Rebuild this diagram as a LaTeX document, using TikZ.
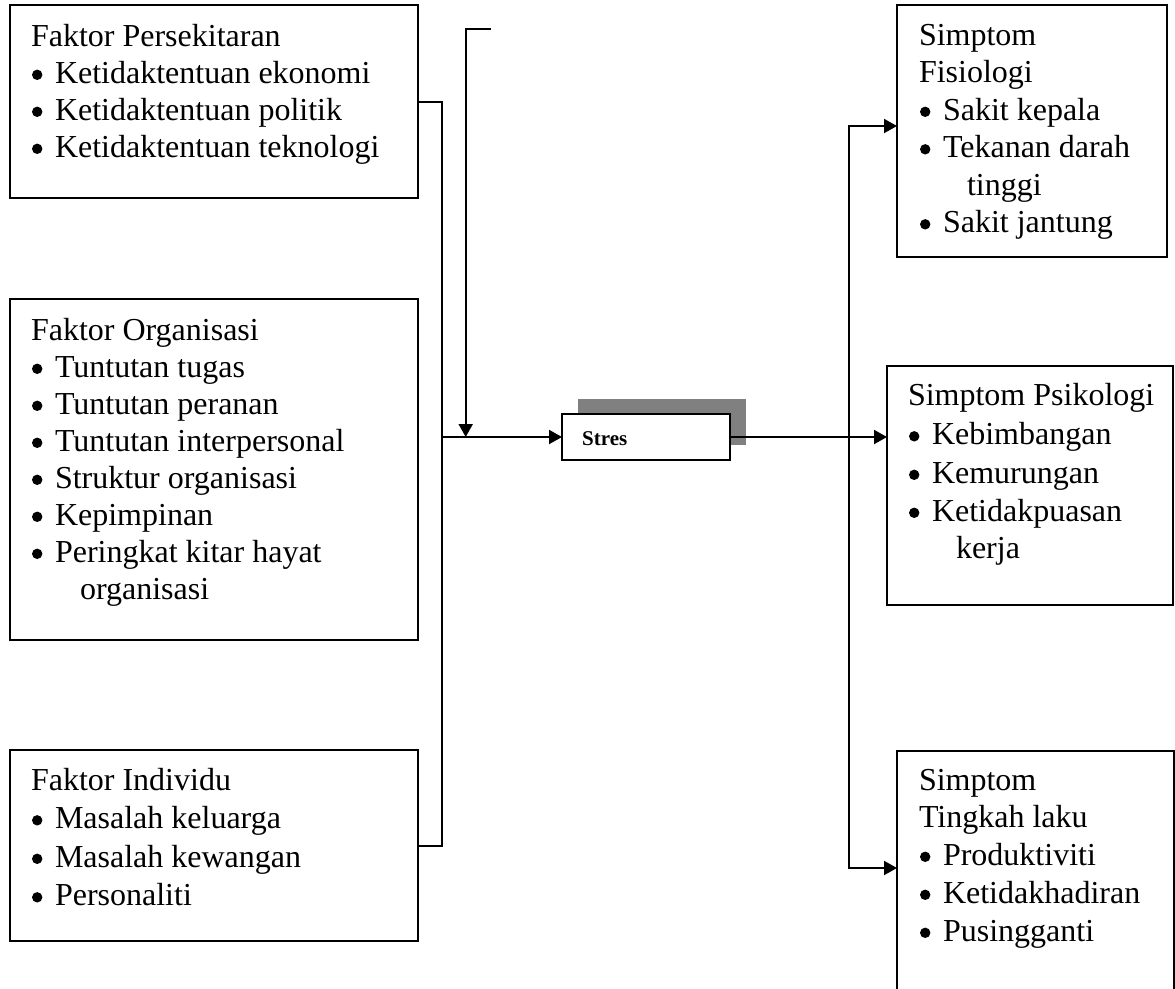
\documentclass[tikz,border=0pt]{standalone}
\usepackage{fontspec}
\setmainfont{Liberation Serif}
\usetikzlibrary{arrows.meta}
\definecolor{shadowgray}{HTML}{808080}
\tikzset{
  box/.style={draw=black, line width=2pt, inner sep=0pt, outer sep=0pt, anchor=north west, fill=white},
  txt/.style={anchor=base west, inner sep=0pt, outer sep=0pt, font=\fontsize{32}{37}\selectfont},
  conn/.style={draw=black, line width=2pt},
  arr/.style={conn, -{Triangle[length=13pt,width=14pt]}},
  arr2/.style={conn, {Triangle[length=13pt,width=14pt]}-{Triangle[length=13pt,width=14pt]}}
}
\newcommand{\bl}{\makebox[23pt][l]{\tikz[x=1pt,y=1pt,baseline=0pt]\fill[black] (5.3,8.2) circle (5.2);}}
\begin{document}
\begin{tikzpicture}[x=1pt,y=-1pt]
\clip (0,0) rectangle (1175,988);
\useasboundingbox (0,0) rectangle (1175,988);

% left boxes
\node[box, minimum width=408pt, minimum height=193pt] (b1) at (10,5) {};
\node[box, minimum width=408pt, minimum height=341pt] (b2) at (10,299) {};
\node[box, minimum width=408pt, minimum height=191pt] (b3) at (10,750) {};

\node[txt] (b1h) at (31,46) {Faktor Persekitaran};
\node[txt] (b1a) at (32,83) {\bl Ketidaktentuan ekonomi};
\node[txt] (b1b) at (32,120) {\bl Ketidaktentuan politik};
\node[txt] (b1c) at (32,157) {\bl Ketidaktentuan teknologi};

\node[txt] (b2h) at (31,340) {Faktor Organisasi};
\node[txt] (b2a) at (32,377) {\bl Tuntutan tugas};
\node[txt] (b2b) at (32,414) {\bl Tuntutan peranan};
\node[txt] (b2c) at (32,451) {\bl Tuntutan interpersonal};
\node[txt] (b2d) at (32,488) {\bl Struktur organisasi};
\node[txt] (b2e) at (32,525) {\bl Kepimpinan};
\node[txt] (b2f) at (32,562) {\bl Peringkat kitar hayat};
\node[txt] (b2g) at (80,599) {organisasi};

\node[txt] (b3h) at (31,790) {Faktor Individu};
\node[txt] (b3a) at (32,828.5) {\bl Masalah keluarga};
\node[txt] (b3b) at (32,867) {\bl Masalah kewangan};
\node[txt] (b3c) at (32,905.5) {\bl Personaliti};

% right boxes
\node[box, minimum width=270pt, minimum height=252pt] (fis) at (897,5) {};
\node[box, minimum width=286pt, minimum height=239pt] (psi) at (887,366) {};
\node[box, minimum width=277pt, minimum height=280pt] (tl) at (897,751) {};

\node[txt] (fish1) at (919,45) {Simptom};
\node[txt] (fish2) at (919,82.5) {Fisiologi};
\node[txt] (fisa) at (920,120) {\bl Sakit kepala};
\node[txt] (fisb) at (920,157.5) {\bl Tekanan darah};
\node[txt] (fisc) at (967,195) {tinggi};
\node[txt] (fisd) at (920,232.5) {\bl Sakit jantung};

\node[txt] (psih) at (908,405) {Simptom Psikologi};
\node[txt] (psia) at (909,444.5) {\bl Kebimbangan};
\node[txt] (psib) at (909,483) {\bl Kemurungan};
\node[txt] (psic) at (909,521) {\bl Ketidakpuasan};
\node[txt] (psid) at (956,558.5) {kerja};

\node[txt] (tlh1) at (919,790) {Simptom};
\node[txt] (tlh2) at (919,827.5) {Tingkah laku};
\node[txt] (tla) at (920,865) {\bl Produktiviti};
\node[txt] (tlb) at (920,903) {\bl Ketidakhadiran};
\node[txt] (tlc) at (920,941) {\bl Pusingganti};

% stres box with shadow
\node[inner sep=0pt, outer sep=0pt, anchor=north west, fill=shadowgray, minimum width=168pt, minimum height=46pt] (shd) at (578,399) {};
\node[box, minimum width=168pt, minimum height=46pt] (stres) at (562,414) {};
\node[anchor=base west, inner sep=0pt, font=\fontsize{21}{24}\selectfont\bfseries] (strest) at (582,445) {Stres};

% connectors
\coordinate (jl) at (442,437);
\draw[conn] (b1.east) -| (jl);
\draw[conn] (b3.east) -| (jl);
\draw[arr] (jl) -- (stres.west);

\coordinate (tc) at (491,29);
\coordinate (tj) at (465.7,437);
\draw[arr] (tc) -| (tj);

\draw[arr] (stres.east) -- (stres.east -| psi.west);

\coordinate (rt) at (849,126);
\coordinate (rb) at (849,868);
\draw[arr2] (rt -| fis.west) -- (rt) -- (rb) -- (rb -| tl.west);
\end{tikzpicture}
\end{document}
